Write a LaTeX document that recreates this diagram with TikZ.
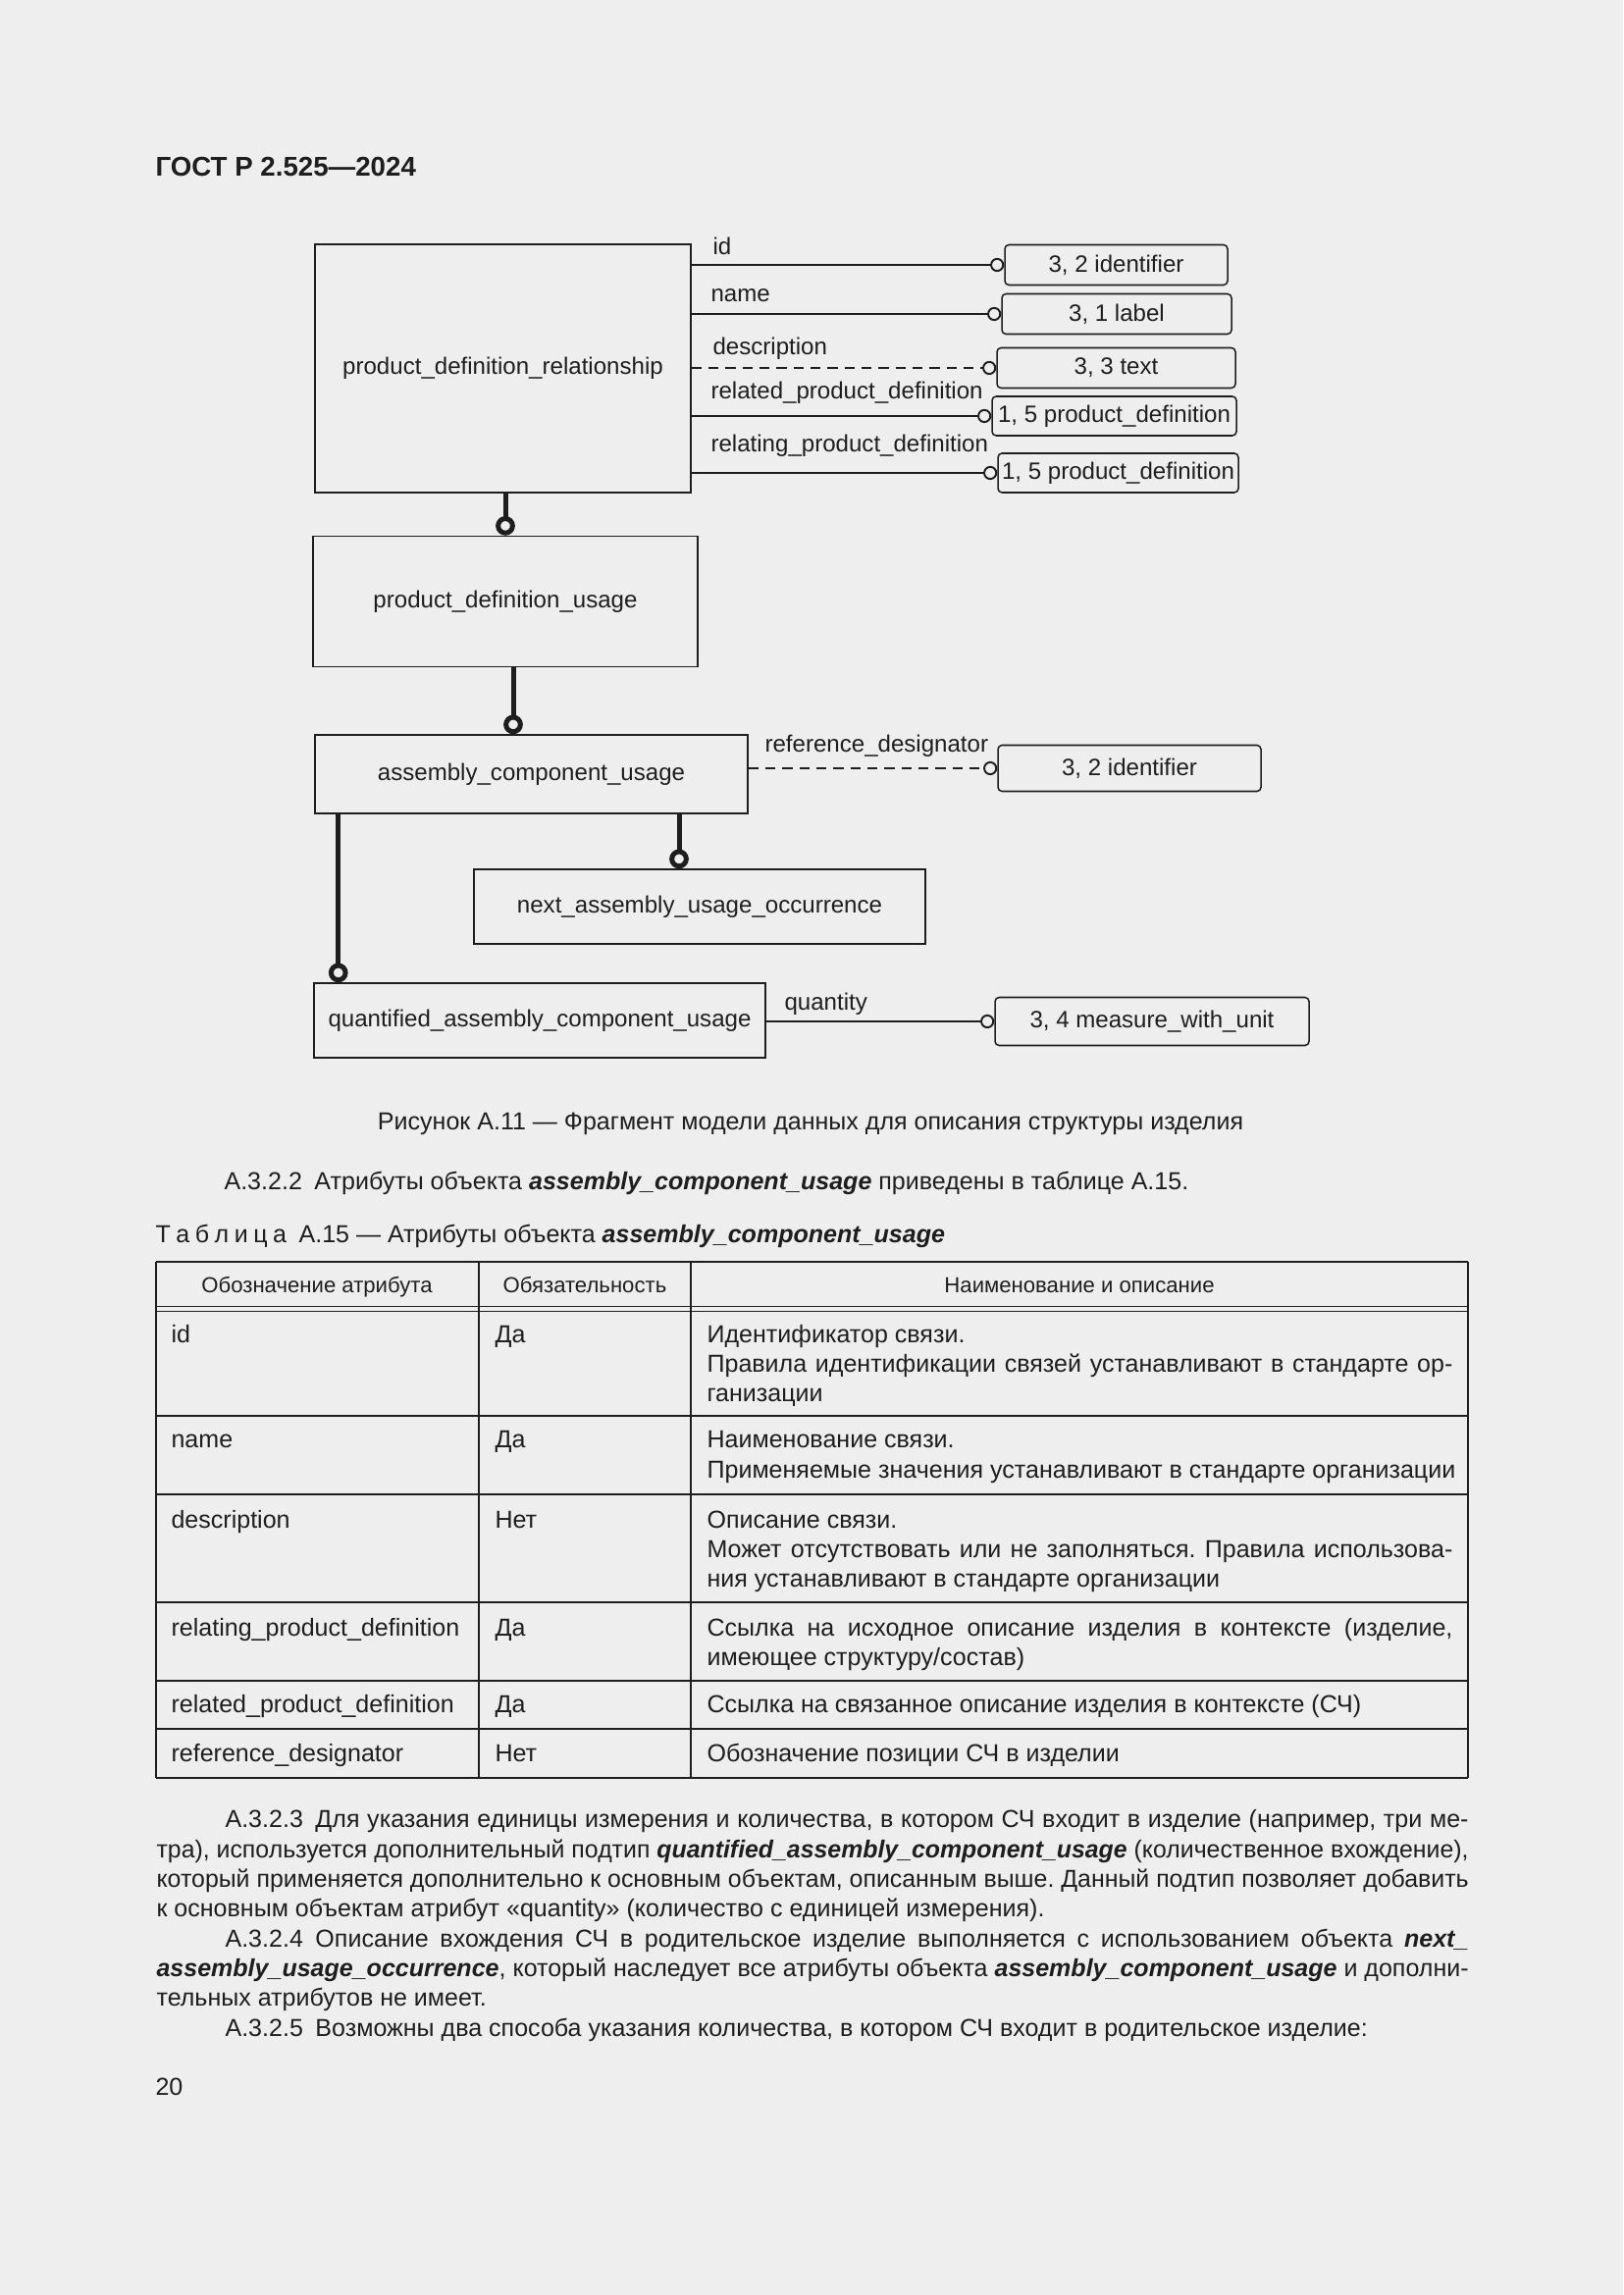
\documentclass[tikz,border=0pt]{standalone}
\usepackage{fontspec}
\setmainfont{Liberation Sans}
\usetikzlibrary{arrows.meta,calc}
\definecolor{ink}{HTML}{1E1E1E}
\definecolor{paper}{HTML}{EEEEEE}
\newcommand\pxu{0.127mm}
\newcommand\bi[1]{\textbf{\textit{#1}}}
\newcommand\bodyfont{\fontsize{9.05}{11}\selectfont}
\newcommand\diagfont{\fontsize{8.7}{10}\selectfont}
\newcommand\headfont{\fontsize{8}{9}\selectfont}
\newsavebox\linebox
\newcommand\jline[2]{\sbox\linebox{#2}\ifdim\wd\linebox>#1\relax\resizebox{#1}{\height}{\usebox\linebox}\else\makebox[#1][s]{#2}\fi}
\frenchspacing

\begin{document}
\begin{tikzpicture}[x=0.127mm, y=-0.127mm,
  entity/.style={rectangle, draw=ink, line width=0.55pt, fill=paper, font=\diagfont, text=ink, inner sep=0pt},
  typebox/.style={rectangle, rounded corners=1.5pt, draw=ink, line width=0.55pt, fill=paper, font=\diagfont, text=ink, inner sep=0pt},
  attr/.style={anchor=base west, inner sep=0pt, font=\diagfont, text=ink},
  attrline/.style={draw=ink, line width=0.7pt, -{Circle[open, length=1.8mm]}},
  optline/.style={attrline, dash pattern=on 1.3mm off 0.9mm},
  subline/.style={draw=ink, line width=1.8pt, -{Circle[open, length=2.5mm]}},
  body/.style={anchor=base west, inner sep=0pt, font=\bodyfont, text=ink},
  headcell/.style={anchor=base, inner sep=0pt, font=\headfont, text=ink},
  rule/.style={draw=ink, line width=1pt},
  thinrule/.style={draw=ink, line width=0.5pt}
]
\useasboundingbox (0,0) rectangle (1654,2339);
\fill[paper] (0,0) rectangle (1654,2339);

% Page header
\node[body, font=\fontsize{10}{12}\selectfont\bfseries] (gost) at (158,180) {ГОСТ Р 2.525—2024};

% Entities
\node[entity, minimum width=383*\pxu, minimum height=253*\pxu] (pdr) at (512.5,375.5) {product\_definition\_relationship};
\node[entity, minimum width=392*\pxu, minimum height=133*\pxu] (pdu) at (515,613) {product\_definition\_usage};
\node[entity, minimum width=441*\pxu, minimum height=80*\pxu] (acu) at (541.5,789) {assembly\_component\_usage};
\node[entity, minimum width=460*\pxu, minimum height=76*\pxu] (nauo) at (713,924) {next\_assembly\_usage\_occurrence};
\node[entity, minimum width=460*\pxu, minimum height=76*\pxu] (qacu) at (550,1040) {quantified\_assembly\_component\_usage};

% Attribute types
\node[typebox, minimum width=227*\pxu, minimum height=41*\pxu] (t1) at (1137.5,270) {3, 2 identifier};
\node[typebox, minimum width=234*\pxu, minimum height=41*\pxu] (t2) at (1138,320) {3, 1 label};
\node[typebox, minimum width=243*\pxu, minimum height=41*\pxu] (t3) at (1137.5,375) {3, 3 text};
\node[typebox, minimum width=249*\pxu, minimum height=40*\pxu] (t4) at (1135.5,424) {1, 5 product\_definition};
\node[typebox, minimum width=245*\pxu, minimum height=40*\pxu] (t5) at (1139.5,482) {1, 5 product\_definition};
\node[typebox, minimum width=268*\pxu, minimum height=47*\pxu] (t6) at (1151,783) {3, 2 identifier};
\node[typebox, minimum width=320*\pxu, minimum height=49*\pxu] (t7) at (1174,1041) {3, 4 measure\_with\_unit};

% Attributes
\draw[attrline] (t1.west -| pdr.east) -- (t1.west);
\draw[attrline] (t2.west -| pdr.east) -- (t2.west);
\draw[optline] (t3.west -| pdr.east) -- (t3.west);
\draw[attrline] (t4.west -| pdr.east) -- (t4.west);
\draw[attrline] (t5.west -| pdr.east) -- (t5.west);
\draw[optline] (t6.west -| acu.east) -- (t6.west);
\draw[attrline] (t7.west -| qacu.east) -- (t7.west);

\node[attr] (a1) at (726,260) {id};
\node[attr] (a2) at (724,308) {name};
\node[attr] (a3) at (726,362) {description};
\node[attr] (a4) at (724,407) {related\_product\_definition};
\node[attr] (a5) at (724,461) {relating\_product\_definition};
\node[attr] (a6) at (779,767) {reference\_designator};
\node[attr] (a7) at (799,1029) {quantity};

% Subtypes
\coordinate (s2) at ($(pdu.south)+(8,0)$);
\coordinate (s3) at ($(nauo.north)+(-21,0)$);
\coordinate (s4) at ($(qacu.north west)+(25.5,0)$);
\draw[subline] (pdr.south -| pdu.north) -- (pdu.north);
\draw[subline] (s2) -- (s2 |- acu.north);
\draw[subline] (s3 |- acu.south) -- (s3);
\draw[subline] (s4 |- acu.south) -- (s4);

% Caption and text
\node[body, anchor=base] (fig) at (826,1151) {Рисунок А.11 — Фрагмент модели данных для описания структуры изделия};
\node[body] (p2) at (228,1212) {А.3.2.2\enspace Атрибуты объекта \bi{assembly\_component\_usage} приведены в таблице А.15.};
\node[body] (tcap) at (158,1266) {Т\kern.22em а\kern.22em б\kern.22em л\kern.22em и\kern.22em ц\kern.22em а\enspace А.15 — Атрибуты объекта \bi{assembly\_component\_usage}};

% Table
\draw[rule] (159,1286) -- (1496,1286);
\draw[thinrule] (159,1331.5) -- (1496,1331.5);
\draw[thinrule] (159,1336.5) -- (1496,1336.5);
\foreach \y in {1443,1523,1633,1713,1762,1812}
  \draw[rule] (159,\y) -- (1496,\y);
\foreach \x in {159,488,704,1496}
  \draw[thinrule] (\x,1286) -- (\x,1812);

\node[headcell] (h1) at (323,1317) {Обозначение атрибута};
\node[headcell] (h2) at (596,1317) {Обязательность};
\node[headcell] (h3) at (1100,1317) {Наименование и описание};

\node[body] (r1a) at (174,1368) {id};
\node[body] (r1b) at (504,1368) {Да};
\node[body] (r1c) at (720,1368) {Идентификатор связи.};
\node[body] (r1d) at (720,1398) {\jline{96.5mm}{Правила идентификации связей устанавливают в стандарте ор-}};
\node[body] (r1e) at (720,1428) {ганизации};

\node[body] (r2a) at (174,1475) {name};
\node[body] (r2b) at (504,1475) {Да};
\node[body] (r2c) at (720,1475) {Наименование связи.};
\node[body] (r2d) at (720,1506) {Применяемые значения устанавливают в стандарте организации};

\node[body] (r3a) at (174,1557) {description};
\node[body] (r3b) at (504,1557) {Нет};
\node[body] (r3c) at (720,1557) {Описание связи.};
\node[body] (r3d) at (720,1587) {\jline{96.5mm}{Может отсутствовать или не заполняться. Правила использова-}};
\node[body] (r3e) at (720,1617) {ния устанавливают в стандарте организации};

\node[body] (r4a) at (174,1667) {relating\_product\_definition};
\node[body] (r4b) at (504,1667) {Да};
\node[body] (r4c) at (720,1667) {\jline{96.5mm}{Ссылка на исходное описание изделия в контексте (изделие,}};
\node[body] (r4d) at (720,1697) {имеющее структуру/состав)};

\node[body] (r5a) at (174,1745) {related\_product\_definition};
\node[body] (r5b) at (504,1745) {Да};
\node[body] (r5c) at (720,1745) {Ссылка на связанное описание изделия в контексте (СЧ)};

\node[body] (r6a) at (174,1795) {reference\_designator};
\node[body] (r6b) at (504,1795) {Нет};
\node[body] (r6c) at (720,1795) {Обозначение позиции СЧ в изделии};

% Paragraphs
\node[body] (l1) at (229,1862) {\jline{160.9mm}{А.3.2.3\enspace Для указания единицы измерения и количества, в котором СЧ входит в изделие (например, три ме-}};
\node[body] (l2) at (159,1893) {\jline{169.8mm}{тра), используется дополнительный подтип \bi{quantified\_assembly\_component\_usage} (количественное вхождение),}};
\node[body] (l3) at (159,1923) {\jline{169.8mm}{который применяется дополнительно к основным объектам, описанным выше. Данный подтип позволяет добавить}};
\node[body] (l4) at (159,1953) {к основным объектам атрибут «quantity» (количество с единицей измерения).};
\node[body] (l5) at (229,1984) {\jline{160.9mm}{А.3.2.4\enspace Описание вхождения СЧ в родительское изделие выполняется с использованием объекта \bi{next\_}}};
\node[body] (l6) at (159,2014) {\jline{169.8mm}{\bi{assembly\_usage\_occurrence}, который наследует все атрибуты объекта \bi{assembly\_component\_usage} и дополни-}};
\node[body] (l7) at (159,2044) {тельных атрибутов не имеет.};
\node[body] (l8) at (229,2075) {А.3.2.5\enspace Возможны два способа указания количества, в котором СЧ входит в родительское изделие:};

% Page number
\node[body] (pnum) at (158,2135) {20};

\end{tikzpicture}
\end{document}
